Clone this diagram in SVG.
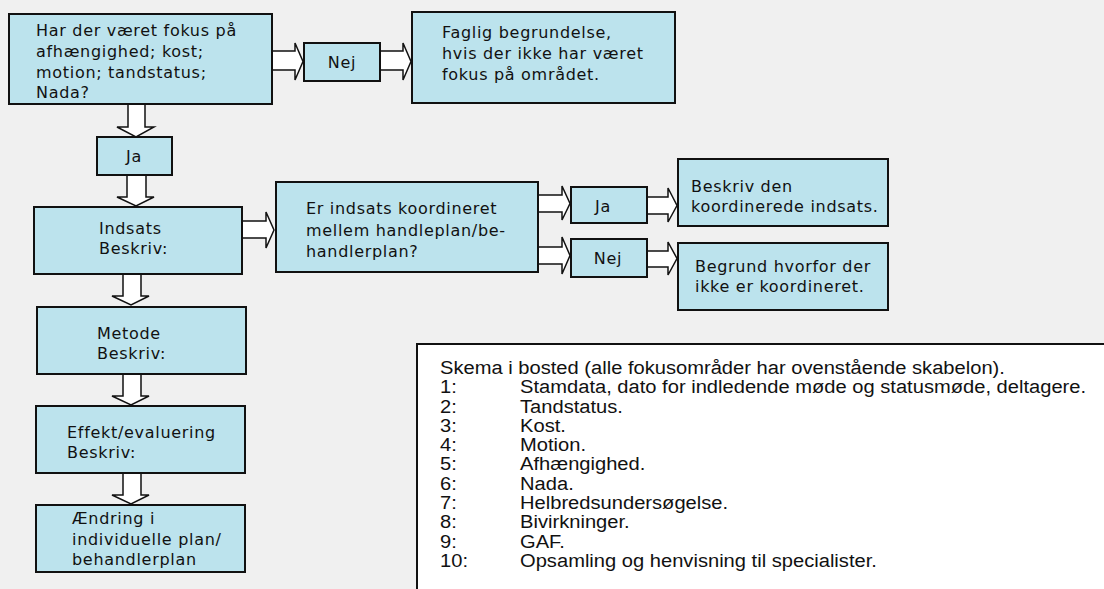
<svg xmlns="http://www.w3.org/2000/svg" width="1104" height="589" viewBox="0 0 1104 589">
<style>
.bg{fill:#f0f0f0}
.box{fill:#bce3ed;stroke:#111;stroke-width:2}
.arr{fill:#fff;stroke:#111;stroke-width:1.5;stroke-linejoin:miter}
.t{font-family:"DejaVu Sans",Verdana,sans-serif;font-size:16px;letter-spacing:0.7px;fill:#111}
.c{text-anchor:middle}
.leg{fill:#fff;stroke:#111;stroke-width:2}
.lt{font-family:"Liberation Sans",Arial,sans-serif;font-size:19px;fill:#111}
</style>
<rect class="bg" x="0" y="0" width="1104" height="589"/>
<g id="connectors">
<polygon class="arr" points="272,51 295,51 295,43 303,61.5 295,80 295,70 272,70"/>
<polygon class="arr" points="380,51 403,51 403,43 411,61.5 403,80 403,70 380,70"/>
<polygon class="arr" points="128,104 145,104 145,127 154,127 136,137 117,127 128,127"/>
<polygon class="arr" points="127,175 146,175 146,197 154,197 136,206 117,197 127,197"/>
<polygon class="arr" points="242,221 266,221 266,212 274,230 266,248 266,238 242,238"/>
<polygon class="arr" points="538,195 562,195 562,186 570,203.5 562,220 562,212 538,212"/>
<polygon class="arr" points="647,197 668,197 668,188 677,205.5 668,222 668,214 647,214"/>
<polygon class="arr" points="538,247 562,247 562,237 570,255.5 562,274 562,264 538,264"/>
<polygon class="arr" points="647,251 668,251 668,242 677,258.5 668,275 668,267 647,267"/>
<polygon class="arr" points="123,274 141,274 141,296 149,296 131,305 112,296 123,296"/>
<polygon class="arr" points="123,374 141,374 141,396 149,396 131,405 112,396 123,396"/>
<polygon class="arr" points="123,473 141,473 141,495 149,495 131,504 112,495 123,495"/>
</g>
<g id="n-fokus">
<rect class="box" x="9" y="14" width="263" height="90"/>
<text class="t" x="36" y="36">Har der været fokus på</text>
<text class="t" x="36" y="57">afhængighed; kost;</text>
<text class="t" x="36" y="78">motion; tandstatus;</text>
<text class="t" x="36" y="98">Nada?</text>
</g>
<g id="n-nej1">
<rect class="box" x="304" y="43" width="76" height="38"/>
<text class="t c" x="342" y="68">Nej</text>
</g>
<g id="n-faglig">
<rect class="box" x="412" y="12" width="263" height="91"/>
<text class="t" x="442" y="38">Faglig begrundelse,</text>
<text class="t" x="442" y="59">hvis der ikke har været</text>
<text class="t" x="442" y="80">fokus på området.</text>
</g>
<g id="n-ja1">
<rect class="box" x="97" y="137" width="75" height="38"/>
<text class="t c" x="134" y="162">Ja</text>
</g>
<g id="n-indsats">
<rect class="box" x="34" y="207" width="208" height="67"/>
<text class="t" x="99" y="234">Indsats</text>
<text class="t" x="99" y="254">Beskriv:</text>
</g>
<g id="n-koordineret">
<rect class="box" x="276" y="182" width="262" height="90"/>
<text class="t" x="306" y="214">Er indsats koordineret</text>
<text class="t" x="306" y="236">mellem handleplan/be-</text>
<text class="t" x="306" y="257">handlerplan?</text>
</g>
<g id="n-ja2">
<rect class="box" x="571" y="187" width="76" height="36"/>
<text class="t c" x="603" y="212">Ja</text>
</g>
<g id="n-nej2">
<rect class="box" x="571" y="239" width="76" height="38"/>
<text class="t c" x="608" y="264">Nej</text>
</g>
<g id="n-beskriv">
<rect class="box" x="678" y="159" width="210" height="67"/>
<text class="t" x="691" y="192">Beskriv den</text>
<text class="t" x="691" y="212">koordinerede indsats.</text>
</g>
<g id="n-begrund">
<rect class="box" x="678" y="243" width="210" height="67"/>
<text class="t" x="695" y="272">Begrund hvorfor der</text>
<text class="t" x="695" y="292">ikke er koordineret.</text>
</g>
<g id="n-metode">
<rect class="box" x="37" y="307" width="209" height="67"/>
<text class="t" x="97" y="339">Metode</text>
<text class="t" x="97" y="359">Beskriv:</text>
</g>
<g id="n-effekt">
<rect class="box" x="36" y="406" width="209" height="67"/>
<text class="t" x="67" y="438">Effekt/evaluering</text>
<text class="t" x="67" y="458">Beskriv:</text>
</g>
<g id="n-aendring">
<rect class="box" x="36" y="505" width="209" height="67"/>
<text class="t" x="72" y="524">Ændring i</text>
<text class="t" x="72" y="545">individuelle plan/</text>
<text class="t" x="72" y="565">behandlerplan</text>
</g>
<g id="legend">
<rect class="leg" x="417" y="344" width="700" height="260"/>
<g transform="translate(440,0) scale(1.06,1)">
<text class="lt" x="0" y="374">Skema i bosted (alle fokusområder har ovenstående skabelon).</text>
<text class="lt" x="0" y="393.3">1:</text><text class="lt" x="75.5" y="393.3">Stamdata, dato for indledende møde og statusmøde, deltagere.</text>
<text class="lt" x="0" y="412.6">2:</text><text class="lt" x="75.5" y="412.6">Tandstatus.</text>
<text class="lt" x="0" y="431.9">3:</text><text class="lt" x="75.5" y="431.9">Kost.</text>
<text class="lt" x="0" y="451.2">4:</text><text class="lt" x="75.5" y="451.2">Motion.</text>
<text class="lt" x="0" y="470.5">5:</text><text class="lt" x="75.5" y="470.5">Afhængighed.</text>
<text class="lt" x="0" y="489.8">6:</text><text class="lt" x="75.5" y="489.8">Nada.</text>
<text class="lt" x="0" y="509.1">7:</text><text class="lt" x="75.5" y="509.1">Helbredsundersøgelse.</text>
<text class="lt" x="0" y="528.4">8:</text><text class="lt" x="75.5" y="528.4">Bivirkninger.</text>
<text class="lt" x="0" y="547.7">9:</text><text class="lt" x="75.5" y="547.7">GAF.</text>
<text class="lt" x="0" y="567">10:</text><text class="lt" x="75.5" y="567">Opsamling og henvisning til specialister.</text>
</g>
</g>
</svg>
